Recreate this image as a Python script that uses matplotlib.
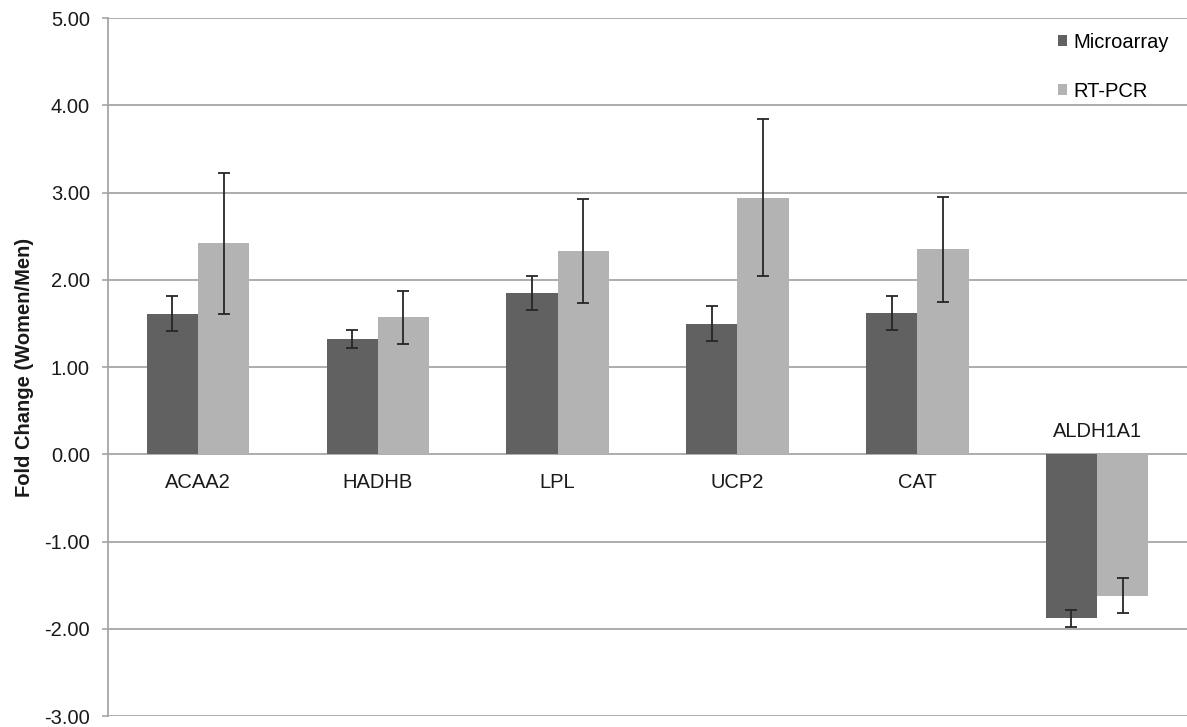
import matplotlib
matplotlib.use("Agg")
import matplotlib.pyplot as plt
import numpy as np

# data
genes = ["ACAA2", "HADHB", "LPL", "UCP2", "CAT", "ALDH1A1"]
microarray = [1.61, 1.32, 1.85, 1.50, 1.62, -1.88]
microarray_err = [0.20, 0.10, 0.20, 0.20, 0.20, 0.10]
rtpcr = [2.42, 1.57, 2.33, 2.94, 2.35, -1.62]
rtpcr_err = [0.81, 0.30, 0.60, 0.90, 0.60, 0.20]
yticks = [-3, -2, -1, 0, 1, 2, 3, 4, 5]

DARK = "#616161"
LIGHT = "#b3b3b3"
GRID = "#a6a6a6"
FS = 14.5

plt.rcParams["font.family"] = ["Liberation Sans", "DejaVu Sans"]

fig = plt.figure(figsize=(11.87, 7.27), dpi=100)
ax = fig.add_axes([0.091, 0.015, 0.909, 0.96])

x = np.arange(len(genes))
w = 0.285
err_kw = dict(ecolor="#262626", elinewidth=1.3, capsize=4, capthick=1.3)
ax.bar(x - w / 2, microarray, w, yerr=microarray_err, color=DARK,
       label="Microarray", error_kw=err_kw, zorder=3)
ax.bar(x + w / 2, rtpcr, w, yerr=rtpcr_err, color=LIGHT,
       label="RT-PCR", error_kw=err_kw, zorder=3)

# category names sit next to the zero line
for i, g in enumerate(genes):
    up = microarray[i] < 0
    ax.annotate(g, (x[i], 0), xytext=(0, 23 if up else -28),
                textcoords="offset pixels", ha="center", va="center",
                fontsize=FS, color="#1a1a1a")

ax.set_xlim(-0.5, len(genes) - 0.5)
ax.set_ylim(-3, 5)
ax.set_yticks(yticks)
ax.set_yticklabels([f"{v:.2f}" for v in yticks], fontsize=FS, color="#1a1a1a")
ax.set_xticks([])
ax.yaxis.grid(True, color=GRID, linewidth=1.3, zorder=0)
ax.tick_params(axis="y", length=4, width=1.2, color=GRID, pad=9)
for s in ["top", "right", "bottom"]:
    ax.spines[s].set_visible(False)
ax.spines["left"].set_color(GRID)
ax.spines["left"].set_linewidth(1.3)

ax.set_ylabel("Fold Change (Women/Men)", fontsize=FS, fontweight="bold",
              labelpad=7, color="#1a1a1a")

ax.legend(loc="upper right", bbox_to_anchor=(1.0, 1.005), frameon=False,
          fontsize=FS, handlelength=0.45, handleheight=0.45, handletextpad=0.3,
          labelspacing=1.5)

fig.savefig("out.png", dpi=100)
